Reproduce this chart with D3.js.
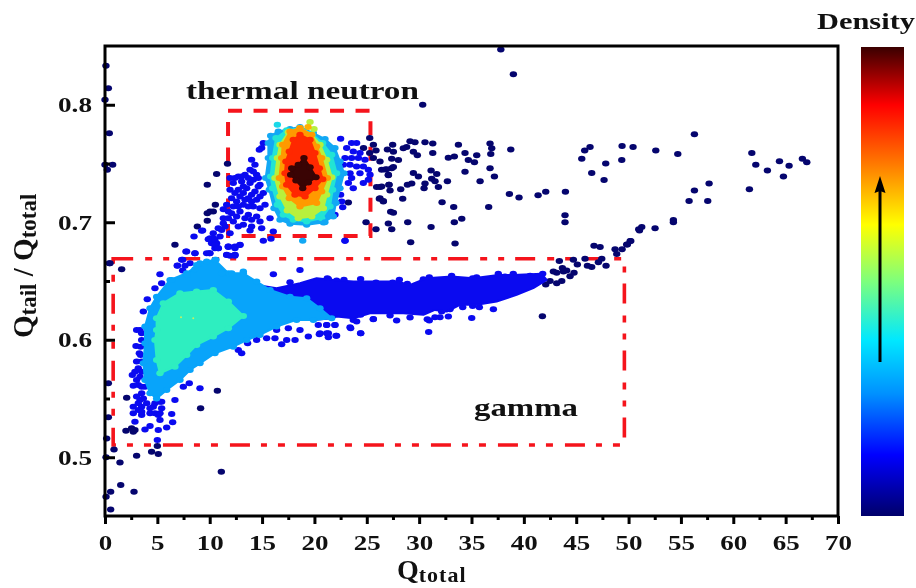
<!DOCTYPE html>
<html>
<head>
<meta charset="utf-8">
<script src="https://cdn.jsdelivr.net/npm/d3@7"></script>
<style>
  html, body { margin: 0; padding: 0; background: #fff; overflow: hidden; }
  svg { display: block; filter: blur(0.6px); }
  text { font-family: "Liberation Serif", serif; font-weight: bold; fill: #111; }
</style>
</head>
<body>
<div id="chart"></div>
<script>
// --- data: [Qtotal, Qtail/Qtotal] ---
const xTicks = [0,5,10,15,20,25,30,35,40,45,50,55,60,65,70];
const xMinorTicks = [2.5,7.5,12.5,17.5,22.5,27.5,32.5,37.5,42.5,47.5,52.5,57.5,62.5,67.5];
const yTicks = [0.5,0.6,0.7,0.8];
const yMinorTicks = [0.55,0.65,0.75];

const neutronBox = [11.75,25.35,0.6884,0.795];
const gammaBox = [0.78,49.6,0.5104,0.669];

// sparse events, lowest density
const navyPoints = [
  [29.13,.769],[29.6,.768],[30.56,.768],[31.3,.767],[33.75,.766],[36.77,.767],[36.93,.763],[38.75,.762],[36.84,.758],[31.3,.759],
  [29.45,.760],[29.83,.757],[28.81,.764],[28.49,.763],[27.47,.766],[26.97,.762],[27.54,.760],[25.63,.766],[25.88,.761],[32.79,.755],
  [33.36,.756],[34.38,.759],[35.5,.757],[34.7,.753],[35.28,.751],[27.38,.754],[28.02,.753],[36.77,.746],[34.38,.743],[37.19,.739],
  [35.82,.735],[32.7,.735],[29.45,.742],[29.93,.739],[31.14,.744],[31.68,.741],[31.2,.737],[31.52,.735],[30.56,.733],[31.84,.730],
  [30.47,.729],[29.29,.733],[28.88,.732],[28.24,.728],[27.22,.727],[27.12,.732],[27.06,.740],[27.38,.746],[26.74,.745],[28.43,.720],
  [26.2,.720],[26.58,.718],[26.27,.730],[32.19,.717],[33.3,.713],[36.64,.713],[27.28,.709],[27.54,.708],[28.91,.700],[27.06,.699],
  [27.38,.694],[25.88,.694],[31.14,.696],[33.36,.700],[34.07,.703],[29.19,.683],[33.43,.682],[38.62,.724],[39.54,.721],[41.36,.723],
  [42.09,.726],[43.97,.726],[43.93,.706],[43.93,.700],[45.53,.754],[45.81,.761],[46.32,.764],[46.48,.742],[47.66,.736],[47.82,.750],
  [49.35,.753],[49.38,.765],[50.43,.764],[50.97,.694],[50.21,.684],[49.82,.681],[49.38,.677],[48.71,.677],[48.87,.673],[47.28,.679],
  [46.7,.680],[47.85,.663],[46.48,.662],[46.07,.663],[47.44,.669],[47.12,.666],[45.84,.669],[44.73,.668],[45.11,.664],[44.41,.654],
  [44.79,.657],[44.09,.659],[43.68,.661],[43.39,.667],[43.78,.658],[43.14,.657],[42.82,.658],[43.62,.650],[43.14,.648],[42.5,.650],
  [42.09,.647],[41.77,.620],[52.6,.761],[54.7,.758],[56.29,.775],[61.77,.759],[62.15,.749],[63.26,.744],[64.41,.752],[65.33,.748],
  [64.79,.739],[66.6,.754],[67.02,.751],[61.54,.728],[57.69,.733],[56.29,.727],[55.78,.718],[57.56,.718],[54.28,.702],[54.28,.700],
  [52.53,.695],[51.26,.696],[51.04,.693],[50.15,.684],[49.89,.681],[37.8,.847],[39,.826],[30.34,.800],
  [25.63,.7546],[26.26,.7518],[26.9,.7452],[27.54,.747],[26.42,.7447],[27.06,.7404],[25.94,.7299],[26.42,.7305],[27.12,.7319],[26.26,.7205],[26.58,.7177],
  [25.28,.7716],[24.69,.7631],[25.28,.7589],[23.24,.7168],[24.93,.7],[11.7,.7498],[10.66,.741],[9.77,.7319],[10.54,.7149],[9.77,.7077],
  [10.03,.7092],[10.34,.7092],[9.77,.7012],[8.82,.6964],[6.68,.6808],[.73,.7489],[.22,.7447],[0,.749],[.41,.6652],[1.59,.66],
  [.09,.8332],[.32,.8141],[0,.8042],[.41,.7758],[.48,.6651],[10.73,.5567],[9.13,.5416],[2.07,.5507],[.32,.5629],[.32,.534],
  [2.0,.5226],[2.54,.5246],[2.86,.5232],[2.7,.5217],[5,.5095],[4.45,.5047],[5.09,.5027],[3.02,.5013],[.86,.5067],[1.43,.4956],
  [.16,.516],[11.11,.4877],[1.5,.4764],[.54,.4707],[2.77,.4707],[.54,.4556],[.1,.4999],[.1,.4664]
];

// second density level, blue
const bluePoints = [
  [15.12,.7674],[14.96,.7631],[14.74,.7617],[14.0,.7532],[14.32,.7489],[13.85,.7447],[11.94,.7376],[12.73,.739],[13.37,.7404],[14.48,.7404],
  [12.25,.7333],[13.05,.7347],[13.85,.7333],[14.8,.7319],[11.94,.7276],[12.73,.7276],[13.53,.729],[14.32,.7262],[15.12,.7248],[12.09,.7205],
  [12.89,.722],[13.69,.7205],[14.48,.7191],[15.28,.7148],[11.62,.7148],[12.25,.7134],[13.21,.7148],[14.16,.7134],[11.3,.711],[12.09,.7077],
  [12.89,.7092],[13.69,.7063],[14.48,.7049],[15.76,.7035],[11.3,.7035],[12.25,.7006],[13.21,.6978],[14.0,.6964],[14.8,.7006],[14.96,.695],
  [11.46,.6964],[11.14,.6935],[11.94,.6907],[10.34,.6907],[10.66,.6822],[10.03,.6864],[10.5,.6779],[11.78,.6794],[12.89,.6808],[12.41,.6779],
  [15.12,.6842],[15.85,.6859],[9.32,.693],[16.07,.6921],[13.85,.693],[9.96,.6737],[11.62,.6723],[12.41,.6723],
  [12.41,.7376],[13.05,.739],[13.69,.7376],[14.16,.7432],[14.64,.7376],[14.16,.7361],[14.64,.7305],[13.21,.7305],[12.41,.7248],[13.21,.7248],
  [14,.7234],[14.8,.722],[12.57,.7177],[13.37,.7191],[14,.7177],[14.8,.712],[12.73,.7134],[13.69,.7134],[11.78,.7092],[12.57,.7049],
  [13.37,.7035],[14,.7021],[11.78,.7035],[12.73,.6964],[11.3,.6992],[10.82,.695],[10.98,.6879],[10.34,.6864],[10.18,.6822],[10.82,.6779],
  [22.5,.7711],[23.55,.7674],[24.03,.7674],[23.08,.7631],[23.71,.7603],[24.35,.7589],[22.92,.7546],[23.55,.7546],[24.2,.7546],[24.83,.7532],
  [22.76,.7489],[23.4,.7489],[24.03,.7475],[24.67,.7475],[25.15,.7447],[23.4,.7418],[24.35,.7418],[25.31,.7404],[23.55,.7376],[24.67,.7333],
  [23.24,.7333],[23.71,.729],[25.15,.7361],[22.5,.7234],[22.6,.7177],[22.7,.7128],[21.96,.7063],[21.49,.7055],[21.65,.7163],[22.92,.6842],
  [9.23,.6927],[8.5,.6879],[9.87,.6856],[7.73,.6751],[8.59,.6737],[7.42,.668],[10.5,.685],[10.73,.678],[11.78,.679],[10.5,.681],
  [9.71,.6737],[6.91,.663],[7.64,.663],[11.94,.6714],[12.4,.6714],
  [21.33,.6518],[22.12,.6504],[22.82,.651],[24.41,.6518],[25.88,.6487],[27.47,.6487],[28.11,.651],[28.87,.6476],[30.4,.6515],[30.97,.6532],
  [32.15,.6481],[33.1,.6544],[34.22,.6504],[35.11,.6524],[35.49,.6532],[36.93,.6504],[37.56,.6561],[38.2,.6538],[38.99,.6561],[40.59,.6544],[41.8,.6561],
  [37.09,.626],[35.11,.6288],[35.75,.6277],[34.16,.6277],[32.95,.626],[32.79,.6197],[31.99,.6192],[31.51,.6192],[30.78,.6175],[30.97,.6163],
  [29.13,.6189],[27.85,.6163],[27.22,.6206],[25.62,.6175],[24.41,.6212],[23.71,.6169],[24.03,.6155],[23.46,.6098],[21.96,.6126],[21.17,.6126],
  [20.53,.6055],[21.17,.6055],[22.06,.6033],[21.33,.6021],[24.41,.6055],[30.91,.6067],[35.02,.6186],[32.15,.624],
  [16.87,.5961],[17.35,.5998],[18.15,.5998],[16.23,.6012],[15.44,.6012],[14.48,.5998],[13.62,.597],[13.05,.5885],[12.73,.5913],[16.39,.6083],
  [17.51,.6098],[18.62,.6083],[19.42,.6027],[20.37,.6126],[20.47,.6046],[21.33,.6055],[22.12,.6035],[21.17,.6126],[21.96,.6126],[23.4,.6106],
  [24.42,.6055],[25.63,.6177],[16.08,.6558],[18.62,.6594],[17.67,.6489],[21.23,.6523],
  [5.25,.6558],[5.41,.6481],[4.77,.6438],[4.04,.6345],[3.66,.624],[3.02,.6083],[3.34,.6083],[3.5,.5998],[2.96,.5947],[3.4,.5941],
  [3.4,.587],[3.02,.5814],[3.18,.5757],[2.61,.57],[3.34,.5686],[2.7,.5609],[3.18,.5615],[3.5,.5544],[3.34,.5487],[3.5,.543],
  [2.7,.543],[3.18,.5402],[3.5,.5359],[2.86,.5303],[4.3,.5374],[4.77,.5374],[5.41,.5416],[5.25,.5473],[6.68,.5487],[6.37,.5368],
  [6.46,.5297],[5.25,.5317],[4.3,.5266],[3.82,.5237],[5.09,.5232],[5.89,.5254],[5,.5146],[8.05,.5629],[7.48,.5601],[9.07,.5587],
  [3.5,.6055],[3.28,.5885],[3.5,.5814],[2.86,.5728],[3.5,.5728],[3.82,.56],[3.02,.5657],[3.5,.56],[3.02,.5516],[3.66,.5501],
  [3.18,.5459],[3.98,.5459],[4.61,.543],[5.09,.5359],[4.3,.5416],[4.77,.5459],[5.41,.5473],[2.7,.5374],[3.5,.5388],[5.25,.5374],
  [7.32,.668],[7.8,.6751],[8.59,.6736],[10.03,.6736],[6.91,.6631],[7.42,.6589],[10.5,.6807],[10.82,.6779],[11.62,.6722],[12.41,.6722],
  [11.78,.6793],[12.41,.6793],[12.89,.6807],[8.12,.6651],[22.92,.6842]
];

// dense gamma ridge outline
const gammaBlueBand = [
  [14.48,.6467],[16.39,.6438],[18.62,.6481],[20.21,.6523],[21.81,.6509],[23.72,.6495],[25.94,.6495],[27.85,.6495],[29.13,.6467],[30.72,.6524],
  [33.1,.6538],[35.17,.6524],[37.56,.6552],[38.99,.6552],[41.7,.6561],[42.18,.651],[40.9,.6439],[39.31,.6382],[37.4,.6325],[35.49,.6297],
  [33.9,.6297],[32.63,.624],[31.51,.6254],[30.4,.6212],[28.49,.6226],[26.9,.6226],[25.31,.6226],[23.71,.6183],[22.12,.6197],[21.65,.6183],[19.9,.6169],[18.62,.6169]
];
const gammaSkyBand = [
  [4.3,.6268],[4.93,.6367],[6.21,.6509],[7.8,.6566],[9.07,.6651],[10.5,.668],[11.78,.6566],[13.21,.6566],[14.48,.6495],[15.76,.6424],
  [17.67,.6367],[19.26,.6353],[20.53,.6268],[21.65,.6183],[19.9,.6169],[18.3,.6169],[16.39,.6112],[14.8,.6041],[13.53,.5998],[12.25,.5941],
  [10.5,.5885],[9.07,.5799],[8.12,.5743],[7.16,.5657],[5.89,.5572],[4.93,.5501],[4.3,.5544],[3.82,.5657],[3.66,.5799],[3.82,.597],[3.82,.6112]
];
const gammaTealBand = [
  [4.93,.6183],[5.57,.6311],[7.16,.6396],[8.75,.641],[10.34,.6424],[11.78,.6325],[13.21,.6203],[11.78,.6098],[10.34,.6027],[8.75,.5956],
  [7.8,.587],[6.68,.5771],[5.25,.5714],[4.93,.5828],[4.77,.5998],[4.93,.6083]
];
const gammaSkyPoints = [[6.37,.6509],[7.86,.6552],[8.75,.6637],[9.71,.6665],[10.6,.668],[13.21,.658],[8.59,.66],[11.14,.6566],[12.1,.6566]];
const gammaYellowPoints = [[7.26,.6191],[8.43,.6183]];

// thermal neutron peak, outer to inner
const neutronSkyBand = [
  [15.82,.7736],[16.55,.7773],[17.67,.7793],[18.62,.781],[19.9,.7759],[21.01,.7708],[21.96,.7631],[22.44,.7518],[22.82,.7418],[22.44,.729],
  [22.06,.7163],[21.8,.7049],[20.85,.6998],[19.26,.6978],[17.67,.6987],[16.71,.7021],[16.14,.712],[15.69,.7276],[15.34,.7376],[15.6,.7546],[15.6,.7674]
];
const neutronTealBand = [
  [16.33,.7716],[17.35,.7782],[18.62,.7802],[19.74,.7753],[20.79,.7674],[21.65,.7574],[22.12,.7418],[21.74,.7276],[21.49,.7134],[20.69,.7035],
  [19.26,.7006],[17.98,.7021],[17.03,.7063],[16.46,.7148],[16.01,.729],[15.82,.739],[16.01,.7546]
];
const neutronLimeBand = [
  [16.71,.766],[17.51,.7765],[18.62,.7802],[19.74,.7745],[20.53,.766],[21.17,.7532],[21.65,.7384],[21.17,.7234],[20.85,.712],[19.74,.7049],
  [18.46,.7035],[17.41,.71],[16.71,.722],[16.23,.7376],[16.46,.7546]
];
const neutronOrangeBand = [
  [16.97,.766],[17.67,.7773],[18.62,.7802],[19.74,.7745],[20.21,.7645],[20.69,.7546],[21.23,.7376],[20.69,.7262],[20.21,.7163],[18.62,.7134],
  [17.6,.7205],[16.97,.7305],[16.65,.7376],[16.87,.7546]
];
const neutronRedBand = [
  [17.6,.7603],[17.98,.7702],[18.62,.7745],[19.58,.7702],[20.05,.7589],[20.47,.746],[20.79,.7367],[20.05,.729],[19.1,.722],[18.14,.7234],
  [17.35,.7319],[17.19,.7418],[17.28,.7518]
];
const neutronDarkBand = [
  [17.83,.746],[18.46,.7489],[19,.7546],[19.58,.7469],[20.15,.7384],[19.42,.7339],[18.88,.729],[18.24,.7356],[17.73,.7404]
];
const neutronStrays = [[16.46,.783,'#19d8e8'],[19.58,.7853,'#b8f03c'],[19.96,.7793,'#b8f03c'],[19.39,.781,'#ffb000'],[18.88,.6842,'#12a8f4'],[21.0,.7,'#12a8f4']];

// colour bar, top to bottom
const densityStops = [
  [0,'#3a0000'],[0.124,'#ff0000'],[0.25,'#ff7a00'],[0.379,'#ffff00'],[0.5,'#7dff7d'],[0.625,'#00e8ff'],[0.74,'#0090ff'],[0.87,'#0000ff'],[1,'#00006a']
];

const margin = { left: 105, right: 78, top: 46, bottom: 72 };
const width = 916 - margin.left - margin.right;
const height = 588 - margin.top - margin.bottom;

const svgRoot = d3.select('#chart').append('svg').attr('width', 916).attr('height', 588);
const svg = svgRoot.append('g').attr('transform', `translate(${margin.left},${margin.top})`);

const x = d3.scaleLinear().domain([0, 70]).range([0, width]);
const y = d3.scaleLinear().domain([0.45, 0.85]).range([height, 0]);

// Red selection boxes
function drawBox(box, dash, sw) {
    svg.append('rect')
        .attr('x', x(box[0]))
        .attr('y', y(box[3]))
        .attr('width', x(box[1]) - x(box[0]))
        .attr('height', y(box[2]) - y(box[3]))
        .attr('fill', 'none')
        .attr('stroke', '#f5141c')
        .attr('stroke-width', sw)
        .attr('stroke-dasharray', dash);
}
drawBox(neutronBox, '14,11.5', 4);
drawBox(gammaBox, '20,12,7,11,6,11', 3.6);

// Points
function drawPoints(points, color) {
    svg.append('g').selectAll('ellipse')
        .data(points)
        .enter()
        .append('ellipse')
        .attr('cx', d => x(d[0]))
        .attr('cy', d => y(d[1]))
        .attr('rx', 3.7)
        .attr('ry', 3)
        .attr('fill', d => d[2] || color);
}

// Density band: filled outline, bumps optional
const bandLine = d3.line().x(d => x(d[0])).y(d => y(d[1])).curve(d3.curveLinearClosed);
function drawBand(points, color, bumps = true) {
    svg.append('path')
        .attr('d', bandLine(points))
        .attr('fill', color)
        .attr('stroke', color)
        .attr('stroke-width', 2)
        .attr('stroke-linejoin', 'round');
    if (bumps) drawPoints(points, color);
}

drawPoints(navyPoints, '#05056e');
drawPoints(bluePoints, '#0a0af0');
drawBand(gammaBlueBand, '#0a0af0', false);
drawBand(gammaSkyBand, '#08a4fa');
drawPoints(gammaSkyPoints, '#08a4fa');
drawBand(gammaTealBand, '#2eeec0');
svg.append('g').selectAll('circle').data(gammaYellowPoints).enter().append('circle')
    .attr('cx', d => x(d[0])).attr('cy', d => y(d[1])).attr('r', 1).attr('fill', '#c8f060');

drawBand(neutronSkyBand, '#12a8f4');
drawBand(neutronTealBand, '#22e4d4');
drawBand(neutronLimeBand, '#b8f03c');
drawBand(neutronOrangeBand, '#ff9a00');
drawBand(neutronRedBand, '#ff2800');
drawBand(neutronDarkBand, '#3a0404');
drawPoints(neutronStrays);

// Axes
const xAxis = svg.append('g').attr('transform', `translate(0,${height})`)
    .call(d3.axisBottom(x).tickValues(xTicks).tickSize(8).tickPadding(10).tickFormat(d3.format('d')));
const xMinor = svg.append('g').attr('transform', `translate(0,${height})`)
    .call(d3.axisBottom(x).tickValues(xMinorTicks).tickSize(4).tickFormat(''));
const yAxis = svg.append('g')
    .call(d3.axisLeft(y).tickValues(yTicks).tickSize(-10).tickPadding(13).tickFormat(d3.format('.1f')));
const yMinor = svg.append('g')
    .call(d3.axisLeft(y).tickValues(yMinorTicks).tickSize(-5).tickFormat(''));

[xAxis, xMinor, yAxis, yMinor].forEach(a => {
    a.select('.domain').remove();
    a.selectAll('line').attr('stroke', '#000').attr('stroke-width', 3);
});
[xAxis, yAxis].forEach(a => {
    a.selectAll('text')
        .style('font-size', '22px')
        .style('font-family', '"Liberation Serif", serif')
        .style('font-weight', 'bold')
        .style('fill', '#111')
        .attr('lengthAdjust', 'spacingAndGlyphs');
});
xAxis.selectAll('text').attr('textLength', d => d < 10 ? 13.5 : 27);
yAxis.selectAll('text').attr('textLength', 34);

// Frame
svg.append('rect')
    .attr('width', width)
    .attr('height', height)
    .attr('fill', 'none')
    .attr('stroke', '#000')
    .attr('stroke-width', 3);

// Annotations
function label(str, px, py, size, len) {
    svgRoot.append('text').attr('x', px).attr('y', py)
        .style('font-size', size + 'px')
        .attr('textLength', len)
        .attr('lengthAdjust', 'spacingAndGlyphs')
        .text(str);
}
label('thermal neutron', 186, 99, 25, 233);
label('gamma', 474, 416, 25, 104);
label('Density', 817, 29, 24, 98);

// Axis titles with subscripts
const xTitle = svgRoot.append('text').attr('x', 397).attr('y', 579).style('font-size', '28px');
xTitle.append('tspan').text('Q');
xTitle.append('tspan').attr('dy', 3).style('font-size', '22px').style('letter-spacing', '1px').text('total');

const yTitle = svgRoot.append('text')
    .attr('transform', 'translate(33,338) rotate(-90)')
    .style('font-size', '29px');
yTitle.append('tspan').text('Q');
yTitle.append('tspan').attr('dy', 3).style('font-size', '23px').text('tail');
yTitle.append('tspan').attr('dy', -3).text(' / Q');
yTitle.append('tspan').attr('dy', 3).style('font-size', '23px').text('total');

// Colour bar
const grad = svgRoot.append('defs').append('linearGradient')
    .attr('id', 'density-grad')
    .attr('x1', 0).attr('y1', 0).attr('x2', 0).attr('y2', 1);
densityStops.forEach(s => {
    grad.append('stop').attr('offset', s[0]).attr('stop-color', s[1]);
});
svgRoot.append('rect')
    .attr('x', 861).attr('y', 47).attr('width', 43).attr('height', 469)
    .attr('fill', 'url(#density-grad)');

// Arrow on the colour bar
svgRoot.append('line')
    .attr('x1', 880).attr('x2', 880).attr('y1', 362).attr('y2', 190)
    .attr('stroke', '#000').attr('stroke-width', 3);
svgRoot.append('path')
    .attr('d', 'M880,176 L885.5,193 L880,191 L874.5,193 Z')
    .attr('fill', '#000');
</script>
</body>
</html>
